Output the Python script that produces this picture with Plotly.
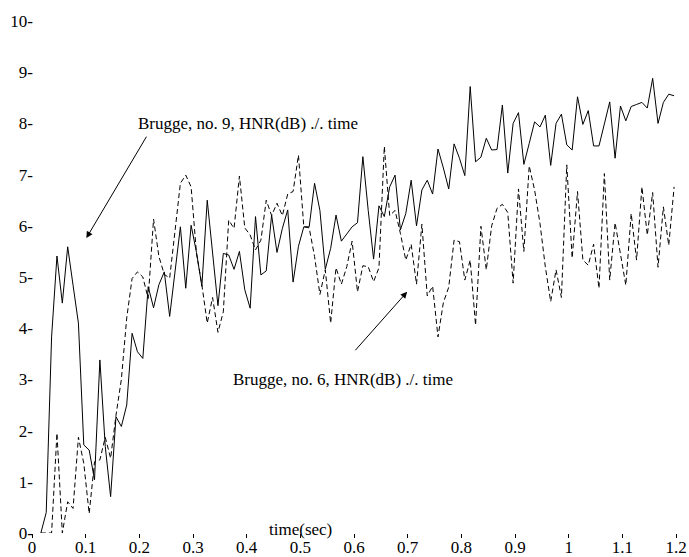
import plotly.graph_objects as go

# time grid (sec), one frame every 0.01 s
times = [round(0.0165 + 0.01 * i, 4) for i in range(119)]

# Brugge, no. 9 (solid)
hnr_no9 = [0.00, 0.40, 3.83, 5.41, 4.49, 5.59, 4.84, 4.10, 1.72, 1.62,
           1.04, 3.38, 1.69, 0.71, 2.27, 2.08, 2.50, 3.90, 3.54, 3.41,
           4.81, 4.40, 4.85, 5.10, 4.23, 5.10, 5.98, 4.78, 6.01, 5.48,
           4.82, 6.50, 5.46, 4.44, 5.46, 5.43, 5.15, 5.50, 4.75, 4.39,
           6.18, 5.04, 5.12, 6.21, 5.48, 5.95, 6.31, 4.90, 5.60, 5.98,
           5.98, 6.83, 6.30, 5.15, 5.56, 6.21, 5.70, 5.85, 5.98, 6.06,
           7.35, 6.30, 5.35, 6.39, 6.18, 6.76, 6.99, 5.92, 6.24, 6.89,
           6.00, 6.70, 6.89, 6.62, 7.50, 7.13, 6.72, 7.60, 7.32, 6.98,
           8.72, 7.25, 7.34, 7.71, 7.48, 7.49, 8.36, 7.03, 8.00, 8.21,
           7.20, 7.61, 8.03, 7.93, 8.16, 7.18, 8.00, 8.18, 7.58, 7.48,
           8.52, 7.98, 8.25, 7.56, 7.56, 7.99, 8.42, 7.32, 8.34, 8.05,
           8.33, 8.37, 8.41, 8.30, 8.88, 8.00, 8.41, 8.57, 8.54]

# Brugge, no. 6 (dashed)
hnr_no6 = [0.00, 0.00, 0.00, 1.95, 0.00, 0.61, 0.48, 1.87, 1.36, 0.38,
           1.39, 1.43, 1.87, 1.46, 2.30, 3.00, 4.20, 4.97, 5.10, 5.00,
           4.58, 6.13, 5.40, 5.05, 4.98, 5.90, 6.83, 6.99, 6.76, 5.46,
           4.85, 4.10, 4.60, 3.92, 4.32, 6.11, 5.95, 6.97, 5.96, 5.82,
           5.53, 5.72, 6.50, 6.20, 6.44, 6.20, 6.62, 6.67, 7.38, 5.98,
           5.96, 5.40, 4.66, 5.14, 4.10, 5.18, 4.86, 5.20, 5.70, 4.71,
           5.22, 5.20, 4.91, 5.18, 7.55, 6.20, 6.30, 5.85, 5.33, 5.64,
           4.86, 6.03, 4.63, 4.82, 3.83, 4.50, 4.80, 5.72, 5.69, 4.94,
           5.33, 4.06, 5.99, 5.14, 6.00, 6.34, 6.42, 6.26, 4.88, 6.72,
           5.50, 7.17, 6.70, 6.05, 5.20, 4.52, 5.14, 4.60, 7.19, 5.37,
           6.67, 5.33, 5.23, 5.64, 4.78, 7.02, 4.94, 6.06, 5.46, 4.84,
           6.24, 5.33, 6.76, 5.82, 6.65, 5.19, 6.37, 5.62, 6.76]

x_tickvals = [0, 0.1, 0.2, 0.3, 0.4, 0.5, 0.6, 0.7, 0.8, 0.9, 1.0, 1.1, 1.2]
x_ticktext = ["0", "0.1", "0.2", "0.3", "0.4", "0.5", "0.6", "0.7", "0.8", "0.9", "1", "1.1", "1.2"]
y_tickvals = [0, 1, 2, 3, 4, 5, 6, 7, 8, 9, 10]
y_ticktext = ["0-", "1-", "2-", "3-", "4-", "5-", "6-", "7-", "8-", "9-", "10-"]

label_no9 = "Brugge, no. 9, HNR(dB) ./. time"
label_no6 = "Brugge, no. 6, HNR(dB) ./. time"

FONT = "Liberation Serif"
FS = 17

fig = go.Figure()
fig.add_trace(go.Scatter(x=times, y=hnr_no9, mode="lines",
                         line=dict(color="black", width=1), showlegend=False))
fig.add_trace(go.Scatter(x=times, y=hnr_no6, mode="lines",
                         line=dict(color="black", width=1, dash="5px,3px"), showlegend=False))

fig.update_xaxes(range=[0, 1.2], tickvals=x_tickvals, ticktext=x_ticktext,
                 ticks="outside", ticklen=4, tickwidth=1, tickcolor="black",
                 showgrid=False, zeroline=False, showline=False, automargin=False,
                 ticklabelstandoff=-5,
                 tickfont=dict(family=FONT, size=FS, color="black"))
fig.update_yaxes(range=[0, 10], tickvals=y_tickvals, ticktext=y_ticktext,
                 ticks="", showgrid=False, zeroline=False, showline=False,
                 automargin=False, ticklabelstandoff=-2,
                 tickfont=dict(family=FONT, size=FS, color="black"))

anns = [
    dict(x=0.403, y=8.0, text=label_no9, showarrow=False),
    dict(x=0.58, y=2.99, text=label_no6, showarrow=False),
    dict(x=0.5, y=0.06, text="time(sec)", showarrow=False),
    dict(x=-0.001, y=5.5, text="dB", showarrow=False),
]
for a in anns:
    a.update(xref="x", yref="y", font=dict(family=FONT, size=FS, color="black"))
    fig.add_annotation(**a)

arrows = [
    dict(x=0.1013, y=5.76, ax=0.2149, ay=7.77),
    dict(x=0.699, y=4.71, ax=0.600, ay=3.54),
]
for a in arrows:
    fig.add_annotation(x=a["x"], y=a["y"], ax=a["ax"], ay=a["ay"],
                       xref="x", yref="y", axref="x", ayref="y",
                       text="", showarrow=True, arrowhead=2, arrowsize=1.3,
                       arrowwidth=1, arrowcolor="black")

fig.update_layout(width=689, height=557,
                  margin=dict(l=32, r=13, t=21, b=24, autoexpand=False),
                  paper_bgcolor="white", plot_bgcolor="white",
                  font=dict(family=FONT, size=FS, color="black"))

fig.write_html("out.html")
